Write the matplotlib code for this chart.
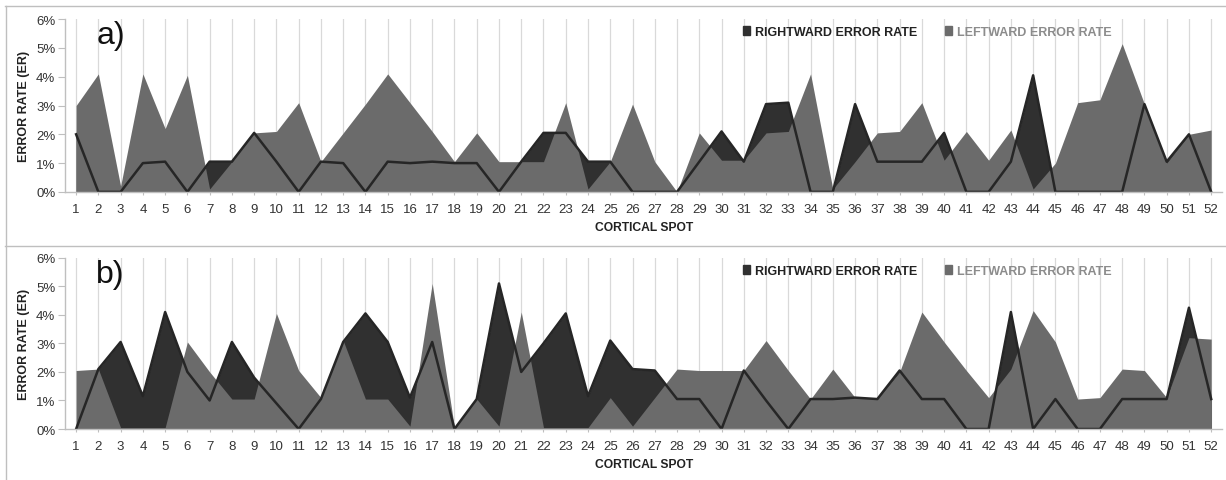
import numpy as np
import matplotlib.pyplot as plt
from matplotlib.lines import Line2D
from matplotlib.patches import Patch

plt.rcParams['font.family'] = ['Liberation Sans', 'DejaVu Sans']

spots = np.arange(1, 53)

# panel a) error rates in %
right_a = [2, 0, 0, 1, 1.05, 0, 1.05, 1.05, 2.05, 1.05, 0, 1.05, 1, 0, 1.05, 1, 1.05, 1, 1,
           0, 1.05, 2.05, 2.05, 1.05, 1.05, 0, 0, 0, 1.05, 2.1, 1.05, 3.05, 3.1, 0, 0, 3.05,
           1.05, 1.05, 1.05, 2.05, 0, 0, 1.05, 4.05, 0, 0, 0, 0, 3.05, 1.05, 2, 0]
left_a = [3, 4.1, 0.2, 4.1, 2.2, 4.05, 0.1, 1.05, 2.05, 2.1, 3.1, 1.05, 2.05, 3.05, 4.1, 3.1,
          2.1, 1.05, 2.05, 1.05, 1.05, 1.05, 3.1, 0.1, 1.05, 3.05, 1.05, 0, 2.05, 1.1, 1.1,
          2.05, 2.1, 4.1, 0.1, 1.05, 2.05, 2.1, 3.1, 1.1, 2.1, 1.1, 2.15, 0.1, 1, 3.1, 3.2,
          5.15, 3.05, 1, 2, 2.15]

# panel b) error rates in %
right_b = [0, 2.1, 3.05, 1.15, 4.1, 2, 1, 3.05, 1.8, 0.9, 0, 1.05, 3.05, 4.05, 3.05, 1.1,
           3.05, 0, 1.05, 5.1, 2, 3, 4.05, 1.15, 3.1, 2.1, 2.05, 1.05, 1.05, 0, 2.05, 1, 0,
           1.05, 1.05, 1.1, 1.05, 2.05, 1.05, 1.05, 0, 0, 4.1, 0, 1.05, 0, 0, 1.05, 1.05,
           1.05, 4.25, 1.05]
left_b = [2.05, 2.1, 0.05, 0.05, 0.05, 3.05, 2, 1.05, 1.05, 4.05, 2.05, 1.1, 3.1, 1.05,
          1.05, 0.1, 5.1, 0.05, 1.05, 0.1, 4.1, 0.05, 0.05, 0.05, 1.1, 0.1, 1.1, 2.1, 2.05,
          2.05, 2.05, 3.1, 2.05, 1.05, 2.1, 1.1, 1.05, 2, 4.1, 3.05, 2.05, 1.1, 2.1, 4.15,
          3.05, 1.05, 1.1, 2.1, 2.05, 1.1, 3.2, 3.15]

DARK = '#303030'
GRAY = '#6b6b6b'

fig = plt.figure(figsize=(12.26, 4.81), dpi=100)

panels = [
    ('a)', right_a, left_a, [0.053, 0.599, 0.944, 0.359]),
    ('b)', right_b, left_b, [0.053, 0.106, 0.944, 0.356]),
]

for tag, right, left, rect in panels:
    ax = fig.add_axes(rect)
    ax.fill_between(spots, 0, right, color=DARK, lw=0, zorder=2)
    ax.fill_between(spots, 0, left, color=GRAY, lw=0, zorder=3)
    ax.plot(spots, right, color='#262626', lw=1.8, zorder=4)

    ax.set_xlim(0.5, 52.5)
    ax.set_ylim(0, 6)
    ax.set_xticks(spots)
    ax.set_xticklabels([str(s) for s in spots], fontsize=9.5, color='#333333')
    ax.set_yticks(range(7))
    ax.set_yticklabels([f'{v}%' for v in range(7)], fontsize=9.5, color='#333333')
    ax.grid(axis='x', color='#d9d9d9', lw=0.9, zorder=0)
    ax.tick_params(axis='x', length=2, color='#bfbfbf', pad=6)
    ax.tick_params(axis='y', length=5, color='#bfbfbf', pad=2)
    for side in ['top', 'right']:
        ax.spines[side].set_visible(False)
    for side in ['left', 'bottom']:
        ax.spines[side].set_color('#bfbfbf')
        ax.spines[side].set_linewidth(1)
    ax.spines['bottom'].set_zorder(5)

    ax.set_ylabel('ERROR RATE (ER)', fontsize=9, fontweight='bold', color='#222222',
                  labelpad=4)
    ax.set_xlabel('CORTICAL SPOT', fontsize=8.7, fontweight='bold', color='#222222',
                  labelpad=4)
    ax.text(0.027, 0.86, tag, transform=ax.transAxes, fontsize=23, color='#111111',
            zorder=6)

    handles = [Patch(color=DARK), Patch(color=GRAY)]
    leg = ax.legend(handles, ['RIGHTWARD ERROR RATE', 'LEFTWARD ERROR RATE'],
                    loc='center', bbox_to_anchor=(0.745, 0.925), ncol=2, frameon=False,
                    handlelength=0.6, handleheight=0.7, handletextpad=0.4,
                    columnspacing=2.2, prop={'size': 9, 'weight': 'bold'})
    leg.get_texts()[0].set_color('#222222')
    leg.get_texts()[1].set_color('#8c8c8c')

# panel frame lines
fig.add_artist(Line2D([0.004, 1], [0.985, 0.985], color='#bfbfbf', lw=1))
fig.add_artist(Line2D([0.004, 1], [0.487, 0.487], color='#bfbfbf', lw=1))
fig.add_artist(Line2D([0.0045, 0.0045], [0, 0.985], color='#bfbfbf', lw=1))

fig.savefig('out.png', dpi=100)
